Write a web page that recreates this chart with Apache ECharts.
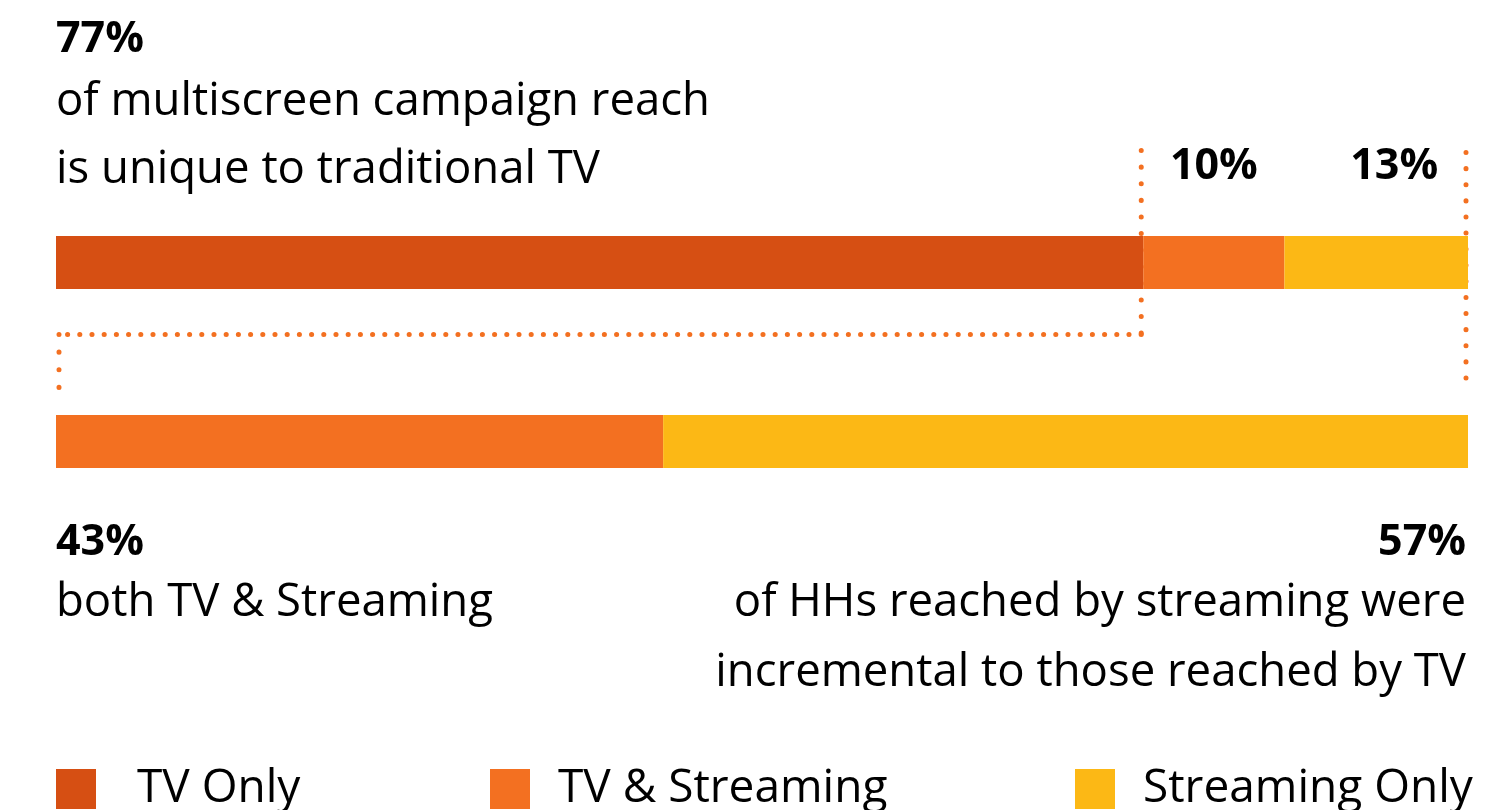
<!DOCTYPE html>
<html>
<head>
<meta charset="utf-8">
<script src="https://cdn.jsdelivr.net/npm/echarts@6/dist/echarts.min.js"></script>
<style>
html,body{margin:0;padding:0;background:#fff;}
#c{width:1496px;height:810px;}
</style>
</head>
<body>
<div id="c"></div>
<script>
const categories = ['Multiscreen campaign reach', 'HHs reached by streaming'];
const seriesNames = ['TV Only', 'TV & Streaming', 'Streaming Only'];
const tvOnly = [77, 0];
const tvStreaming = [10, 43];
const streamingOnly = [13, 57];
const colors = ['#D64F13', '#F37021', '#FCB815'];

const FONT = 'Open Sans';
const TXT = 45.5;
const chart = echarts.init(document.getElementById('c'));

const topLabel = {
  show: true, position: 'top', distance: 48,
  formatter: p => p.value + '%',
  fontFamily: FONT, fontWeight: 'bold', fontSize: 43, color: '#000'
};

const option = {
  animation: false,
  grid: { left: 56, right: 28, top: 173, height: 358, containLabel: false },
  xAxis: { type: 'value', min: 0, max: 100, show: false },
  yAxis: { type: 'category', data: categories, inverse: true, show: false },
  legend: seriesNames.map((n, i) => ({
    data: [n], left: [56, 490, 1075][i], top: 766, padding: 0, itemWidth: 40, itemHeight: 40,
    icon: 'rect', selectedMode: false,
    textStyle: { fontFamily: FONT, fontSize: 46, color: '#000', padding: [0, 0, 0, i === 0 ? 36 : 23] }
  })),
  series: [
    { name: seriesNames[0], type: 'bar', stack: 'r', barWidth: 53, itemStyle: { color: colors[0] },
      data: tvOnly },
    { name: seriesNames[1], type: 'bar', stack: 'r', barWidth: 53, itemStyle: { color: colors[1] },
      data: tvStreaming.map((v, i) => i === 0 ? { value: v, label: topLabel } : v) },
    { name: seriesNames[2], type: 'bar', stack: 'r', barWidth: 53, itemStyle: { color: colors[2] },
      data: streamingOnly.map((v, i) => i === 0 ? { value: v, label: Object.assign({}, topLabel, { offset: [18, 0] }) } : v) }
  ]
};
chart.setOption(option);

// annotations computed from the axes
const p77 = chart.convertToPixel({ gridIndex: 0 }, [tvOnly[0], 0]);
const pEnd = chart.convertToPixel({ gridIndex: 0 }, [100, 0]);
const p0b = chart.convertToPixel({ gridIndex: 0 }, [0, 1]);
const yc0 = p77[1], yc1 = p0b[1];
const x0 = p0b[0];
const dot = { stroke: '#F37021', lineWidth: 5, lineCap: 'round', fill: null };
const txt = (x, y, text, opts) => ({
  type: 'text', x, y,
  style: Object.assign({ text, fontFamily: FONT, fontSize: TXT, fill: '#000', verticalAlign: 'middle' }, opts || {})
});
chart.setOption({
  graphic: [
    { type: 'polyline', shape: { points: [[p77[0] - 2, yc0 - 112], [p77[0] - 2, yc0 + 72]] }, style: Object.assign({ lineDash: [0.1, 16.5] }, dot) },
    { type: 'polyline', shape: { points: [[p77[0] - 2, yc0 + 72], [x0 + 3, yc0 + 72]] }, style: Object.assign({ lineDash: [0.1, 12.1] }, dot) },
    { type: 'polyline', shape: { points: [[x0 + 3, yc0 + 72], [x0 + 3, yc1 - 54]] }, style: Object.assign({ lineDash: [0.1, 17.5] }, dot) },
    { type: 'polyline', shape: { points: [[pEnd[0] - 2, yc0 - 110], [pEnd[0] - 2, yc1 - 52]] }, style: Object.assign({ lineDash: [0.1, 16] }, dot) },
    txt(56, 40, tvOnly[0] + '%', { fontWeight: 'bold', fontSize: 43 }),
    txt(56, 102, 'of multiscreen campaign reach'),
    txt(56, 170, 'is unique to traditional TV'),
    txt(56, 543, tvStreaming[1] + '%', { fontWeight: 'bold', fontSize: 43 }),
    txt(56, 603, 'both TV & Streaming'),
    txt(1466, 543, streamingOnly[1] + '%', { fontWeight: 'bold', fontSize: 43, align: 'right' }),
    txt(1466, 603, 'of HHs reached by streaming were', { align: 'right' }),
    txt(1466, 673, 'incremental to those reached by TV', { align: 'right' })
  ]
});
</script>
</body>
</html>
